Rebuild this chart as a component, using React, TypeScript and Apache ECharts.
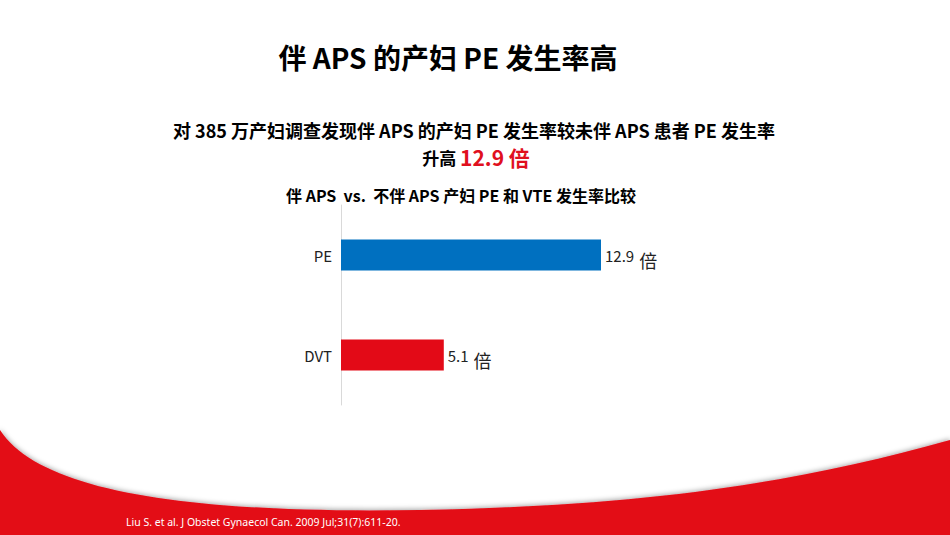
import React, { useEffect, useRef } from "react";
import * as echarts from "echarts";

const categories = ["PE", "DVT"];
const values = [12.9, 5.1];
const barColors = ["#0070C0", "#E30A17"];
const unit = "倍";
const mainTitle = "伴 APS 的产妇 PE 发生率高";
const subLine1 = "对 385 万产妇调查发现伴 APS 的产妇 PE 发生率较未伴 APS 患者 PE 发生率";
const subLine2a = "升高 ";
const subLine2b = "12.9 倍";
const chartTitle = "伴 APS\u00a0\u00a0vs.\u00a0\u00a0不伴 APS 产妇 PE 和 VTE 发生率比较";
const footnote = "Liu S. et al. J Obstet Gynaecol Can. 2009 Jul;31(7):611-20.";

const CJK = '"Noto Sans CJK SC", "Noto Sans", sans-serif';

echarts.graphic.registerShape(
  "redWave",
  echarts.graphic.extendPath(
    "M0,430 C40,492 190,514 420,510 C650,506 800,482 950,440 L950,535 L0,535 Z",
    {}
  )
);

export default function App() {
  const ref = useRef<HTMLDivElement>(null);
  useEffect(() => {
    if (!ref.current) return;
    const chart = echarts.init(ref.current, null, { renderer: "svg" });
    chart.setOption({
      animation: false,
      backgroundColor: "#ffffff",
      grid: { left: 341, top: 205, width: 403.1, height: 200, containLabel: false },
      xAxis: {
        type: "value",
        min: 0,
        max: 20,
        show: false,
      },
      yAxis: {
        type: "category",
        data: categories,
        inverse: true,
        axisLine: { show: true, lineStyle: { color: "#d9d9d9", width: 1 } },
        axisTick: { show: false },
        axisLabel: {
          color: "#222",
          fontSize: 15,
          fontFamily: CJK,
          margin: 9,
        },
      },
      series: [
        {
          type: "bar",
          barWidth: 31,
          data: values.map((v, i) => ({ value: v, itemStyle: { color: barColors[i] } })),
          label: {
            show: true,
            position: "right",
            distance: 4,
            formatter: (p: any) => `{a|${p.value}}{b|${unit}}`,
            rich: {
              a: { fontSize: 15, color: "#222", fontFamily: CJK },
              b: { fontSize: 18, color: "#222", fontFamily: CJK, padding: [10, 0, 0, 5] },
            },
          },
        },
      ],
      graphic: [
        {
          type: "redWave",
          x: 0,
          y: 0,
          z: -1,
          style: {
            fill: "#E30A17",
            shadowColor: "rgba(0,0,0,0.35)",
            shadowBlur: 5,
            shadowOffsetY: -1,
          },
        },
        {
          type: "text",
          x: 448,
          y: 57,
          style: {
            text: mainTitle,
            fontSize: 28,
            fontWeight: "bold",
            fontFamily: CJK,
            fill: "#000",
            textAlign: "center",
            textVerticalAlign: "middle",
          },
        },
        {
          type: "text",
          x: 474,
          y: 130,
          style: {
            text: subLine1,
            fontSize: 18,
            lineHeight: 20,
            fontWeight: "bold",
            fontFamily: CJK,
            fill: "#000",
            textAlign: "center",
            textVerticalAlign: "middle",
          },
        },
        {
          type: "text",
          x: 476,
          y: 157,
          style: {
            text: `{a|${subLine2a}}{b|${subLine2b}}`,
            textAlign: "center",
            textVerticalAlign: "middle",
            rich: {
              a: { fontSize: 17, lineHeight: 22, fontWeight: "bold", fontFamily: CJK, fill: "#000", color: "#000" },
              b: { fontSize: 21, lineHeight: 22, fontWeight: "bold", fontFamily: CJK, fill: "#E0101E", color: "#E0101E" },
            },
          },
        },
        {
          type: "text",
          x: 461,
          y: 195,
          style: {
            text: chartTitle,
            fontSize: 16,
            fontWeight: "bold",
            fontFamily: CJK,
            fill: "#000",
            textAlign: "center",
            textVerticalAlign: "middle",
          },
        },
        {
          type: "text",
          x: 126,
          y: 522,
          style: {
            text: footnote,
            fontSize: 10.5,
            fontFamily: '"Noto Sans", sans-serif',
            fill: "#ffffff",
            textAlign: "left",
            textVerticalAlign: "middle",
          },
        },
      ],
    });
    return () => chart.dispose();
  }, []);
  return (
    <div
      ref={ref}
      style={{ position: "fixed", left: 0, top: 0, width: 950, height: 535 }}
    />
  );
}
